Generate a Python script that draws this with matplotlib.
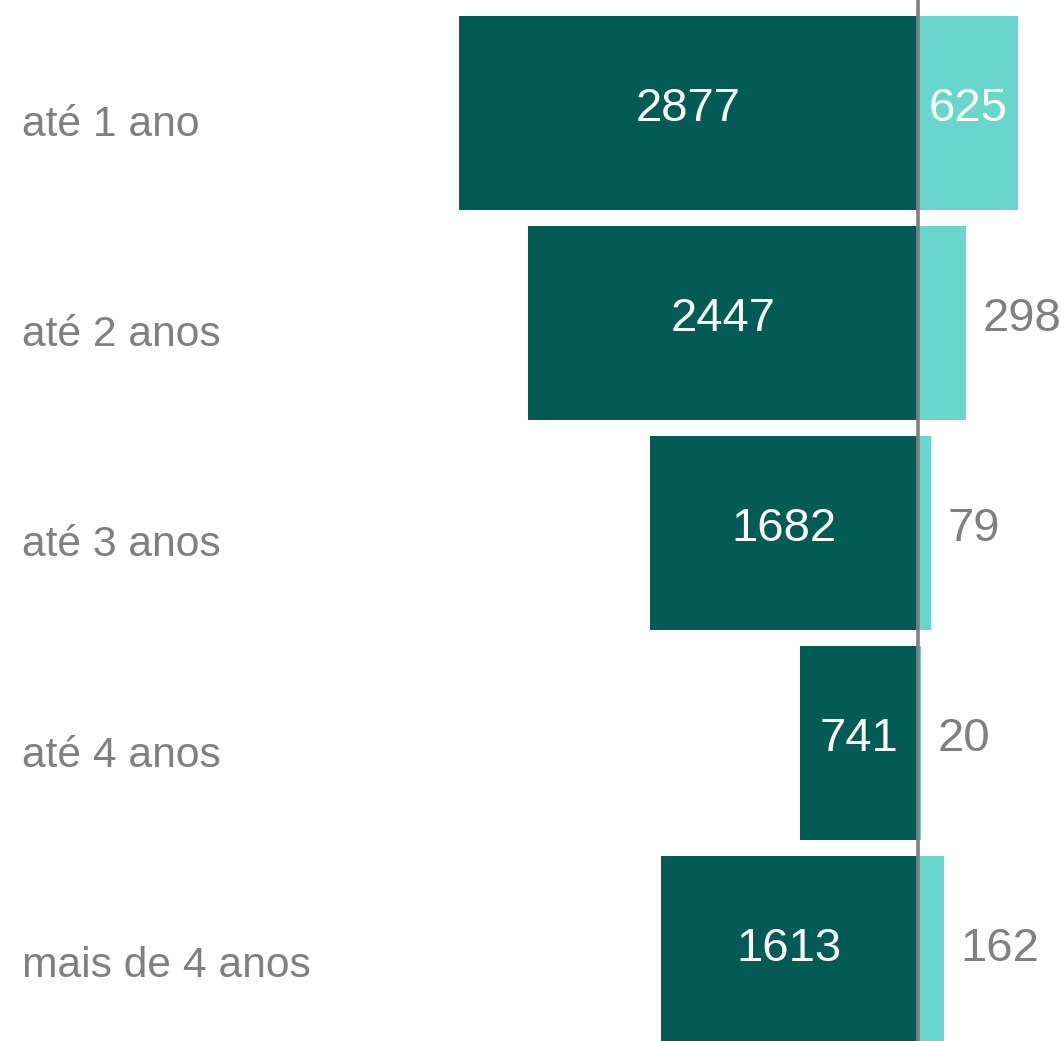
import matplotlib.pyplot as plt
import numpy as np

plt.rcParams['font.family'] = ['Liberation Sans', 'DejaVu Sans']

categories = ["até 1 ano", "até 2 anos", "até 3 anos", "até 4 anos", "mais de 4 anos"]
left_values = [2877, 2447, 1682, 741, 1613]
right_values = [625, 298, 79, 20, 162]

dark = "#025C55"
light = "#68D6CD"
gray = "#808080"

fig = plt.figure(figsize=(10.61, 10.41), dpi=100)
ax = fig.add_axes([0, 0, 1, 1])

y = np.arange(len(categories))
h = 0.92
ax.barh(y, [-v for v in left_values], height=h, color=dark)
ax.barh(y, right_values, height=h, color=light)
ax.axvline(0, color=gray, lw=2.6, zorder=5)

ax.set_xlim(-5755, 896)
ax.set_ylim(4.419, -0.538)
ax.axis('off')

# labels on the dark bars
for yi, v in zip(y, left_values):
    ax.annotate(str(v), (-v / 2, yi), xytext=(0, 3), textcoords='offset points',
                ha='center', va='center', color='white', fontsize=34)

# labels on the light bars: inside when the bar is wide enough
for yi, v in zip(y, right_values):
    if v > 500:
        ax.annotate(str(v), (v / 2, yi), xytext=(0, 3), textcoords='offset points',
                    ha='center', va='center', color='white', fontsize=34)
    else:
        ax.annotate(str(v), (v, yi), xytext=(12, 3), textcoords='offset points',
                    ha='left', va='center', color=gray, fontsize=34)

# category names at the left edge
for yi, c in zip(y, categories):
    ax.annotate(c, (0, yi), xycoords=('axes fraction', 'data'), xytext=(16, -9),
                textcoords='offset points', ha='left', va='center',
                color=gray, fontsize=30.7)

fig.savefig("out.png", dpi=100)
